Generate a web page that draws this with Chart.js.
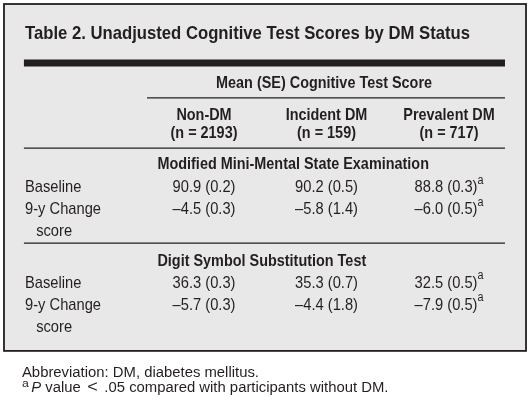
<!DOCTYPE html>
<html><head><meta charset="utf-8">
<script src="https://cdn.jsdelivr.net/npm/chart.js@4.4.1/dist/chart.umd.min.js"></script>
<style>html,body{margin:0;padding:0;background:#fff;}#wrap{width:530px;height:404px;}</style>
</head><body><div id="wrap"><canvas id="c" width="530" height="404"></canvas></div>
<script>
// ---------------- data ----------------
const tableTitle = 'Table 2. Unadjusted Cognitive Test Scores by DM Status';
const spanHeader = 'Mean (SE) Cognitive Test Score';
const groups = ['Non-DM', 'Incident DM', 'Prevalent DM'];
const groupN = [2193, 159, 717];
const tests = ['Modified Mini-Mental State Examination', 'Digit Symbol Substitution Test'];
const measureLabels = [['Baseline'], ['9-y Change', 'score']];
const mmseBaselineMean = [90.9, 90.2, 88.8];
const mmseBaselineSE   = [0.2, 0.5, 0.3];
const mmseChangeMean   = [-4.5, -5.8, -6.0];
const mmseChangeSE     = [0.3, 1.4, 0.5];
const dsstBaselineMean = [36.3, 35.3, 32.5];
const dsstBaselineSE   = [0.3, 0.7, 0.5];
const dsstChangeMean   = [-5.7, -4.4, -7.9];
const dsstChangeSE     = [0.3, 1.8, 0.5];
const pBelow05VsNonDM  = [false, false, true];
const footAbbrev = 'Abbreviation: DM, diabetes mellitus.';
const footNoteP = 'P';
const footNoteParts = [' value', '<', '.05 compared with participants without DM.'];

// ---------------- layout (scale units) ----------------
const X_MIN = -0.6653, X_MAX = 3.6612, Y_MAX = 404 / 22;
const COL_X = [1, 2, 3];
const LABEL_X = -0.461, INDENT_X = -0.37, SECTION_X = 0.62, SPAN_X = 1.98;
const RULE_X = [-0.47, 3.457], SPAN_RULE_X0 = 0.535;
const BOX = { x0: -0.6327, x1: 3.6286, y0: 0.182, y1: 15.95 };
const Y = { title: 1.77, thick: 2.86, span: 4.02, spanRule: 4.45, grp: 5.45, n: 6.27, hdrRule: 6.73,
            sections: [7.68, 12.09], rowStart: [8.73, 13.09], secRule: 11.05, foot1: 17.14, foot2: 17.84 };
const INK = '#231f20';

function hasFont(f) {
  const c = document.createElement('canvas').getContext('2d');
  c.font = '40px monospace'; const a = c.measureText('Baseline Wmi 123').width;
  c.font = `40px "${f}", monospace`; return c.measureText('Baseline Wmi 123').width !== a;
}
const NARROW = hasFont('Liberation Sans Narrow') ? '"Liberation Sans Narrow", "Liberation Sans", Arial, sans-serif' : '"Liberation Sans", Arial, sans-serif';
const WIDE = '"Liberation Sans", Arial, sans-serif';
const STYLES = {
  title:   { w: 'bold', s: 19, fam: NARROW, ref: [tableTitle, 445] },
  bold:    { w: 'bold', s: 17, fam: NARROW, ref: [spanHeader, 216] },
  body:    { w: '', s: 17, fam: NARROW, ref: ['9-y Change', 76] },
  sup:     { w: '', s: 12.5, fam: NARROW, scaleOf: 'body', dy: -8.5 },
  foot:    { w: '', s: 14, fam: WIDE, ref: [footAbbrev, 237] },
  footItal:{ w: 'italic', s: 14, fam: WIDE, scaleOf: 'foot' },
  footLt:  { w: '', s: 17, fam: WIDE, scaleOf: 'foot', dy: -0.5 },
  footSup: { w: '', s: 11.5, fam: WIDE, scaleOf: 'foot', dy: -5 }
};
const fontOf = st => `${st.w ? st.w + ' ' : ''}${st.s}px ${st.fam}`;
function scaleOf(ctx, name) {
  const st = STYLES[name];
  if (st.sx) return st.sx;
  if (st.scaleOf) { st.sx = scaleOf(ctx, st.scaleOf); return st.sx; }
  ctx.save(); ctx.font = fontOf(st); const m = ctx.measureText(st.ref[0]).width; ctx.restore();
  st.sx = st.ref[1] / m; return st.sx;
}

const fmt = v => (v < 0 ? '\u2013' : '') + Math.abs(v).toFixed(1);
const cell = (m, se, sig) => {
  const segs = [{ t: `${fmt(m)} (${se.toFixed(1)})`, st: 'body' }];
  if (sig) segs.push({ t: 'a', st: 'sup' });
  return segs;
};

// ---------------- datasets ----------------
const datasets = [];
const rule = (x0, x1, y, w) => datasets.push({ type: 'line', data: [{ x: x0, y }, { x: x1, y }],
  borderColor: INK, borderWidth: w, pointRadius: 0, borderCapStyle: 'butt', fill: false, showLine: true });
const text = (pts, texts, align) => datasets.push({ type: 'scatter', data: pts, texts, align, pointRadius: 0, showLine: false });

rule(RULE_X[0], RULE_X[1], Y.thick, 7);
rule(SPAN_RULE_X0, RULE_X[1], Y.spanRule, 1.3);
rule(RULE_X[0], RULE_X[1], Y.hdrRule, 1.3);
rule(RULE_X[0], RULE_X[1], Y.secRule, 1.3);

text([{ x: LABEL_X, y: Y.title }], [[{ t: tableTitle, st: 'title' }]], 'left');
text([{ x: SPAN_X, y: Y.span }], [[{ t: spanHeader, st: 'bold' }]], 'center');
text(COL_X.map(x => ({ x, y: Y.grp })), groups.map(g => [{ t: g, st: 'bold' }]), 'center');
text(COL_X.map(x => ({ x, y: Y.n })), groupN.map(n => [{ t: `(n = ${n})`, st: 'bold' }]), 'center');

const testRows = [
  [[mmseBaselineMean, mmseBaselineSE], [mmseChangeMean, mmseChangeSE]],
  [[dsstBaselineMean, dsstBaselineSE], [dsstChangeMean, dsstChangeSE]]
];
tests.forEach((name, s) => {
  text([{ x: SECTION_X, y: Y.sections[s] }], [[{ t: name, st: 'bold' }]], 'left');
  testRows[s].forEach(([means, ses], r) => {
    const y0 = Y.rowStart[s] + r;
    measureLabels[r].forEach((lab, k) => {
      text([{ x: k === 0 ? LABEL_X : INDENT_X, y: y0 + k }], [[{ t: lab, st: 'body' }]], 'left');
    });
    text(COL_X.map(x => ({ x, y: y0 })), means.map((m, i) => cell(m, ses[i], pBelow05VsNonDM[i])), 'center');
  });
});
text([{ x: LABEL_X - 0.025, y: Y.foot1 }], [[{ t: footAbbrev, st: 'foot' }]], 'left');
text([{ x: LABEL_X - 0.025, y: Y.foot2 }], [[
  { t: 'a', st: 'footSup' }, { t: footNoteP, st: 'footItal', gap: 2.5 },
  { t: footNoteParts[0], st: 'foot' }, { t: footNoteParts[1], st: 'footLt', gap: 6.5 },
  { t: footNoteParts[2], st: 'foot', gap: 6.5 }]], 'left');

// ---------------- drawing plugin ----------------
function drawRich(ctx, segs, x, y, align) {
  const widths = segs.map(sg => { const st = STYLES[sg.st]; ctx.font = fontOf(st); return ctx.measureText(sg.t).width * scaleOf(ctx, sg.st) + (sg.gap || 0); });
  const total = widths.reduce((a, b) => a + b, 0);
  let cx = align === 'center' ? x - total / 2 : align === 'right' ? x - total : x;
  segs.forEach((sg, i) => {
    const st = STYLES[sg.st];
    cx += sg.gap || 0;
    ctx.save();
    ctx.font = fontOf(st); ctx.fillStyle = INK; ctx.textAlign = 'left'; ctx.textBaseline = 'alphabetic';
    ctx.translate(cx, y + (st.dy || 0)); ctx.scale(scaleOf(ctx, sg.st), 1);
    ctx.fillText(sg.t, 0, 0);
    ctx.restore();
    cx += widths[i] - (sg.gap || 0);
  });
}
const tablePlugin = {
  id: 'tableText',
  beforeDatasetsDraw(chart) {
    const { ctx, scales: { x, y } } = chart;
    ctx.save();
    ctx.fillStyle = '#fff'; ctx.fillRect(0, 0, chart.width, chart.height);
    const x0 = x.getPixelForValue(BOX.x0), x1 = x.getPixelForValue(BOX.x1);
    const y0 = y.getPixelForValue(BOX.y0), y1 = y.getPixelForValue(BOX.y1);
    ctx.fillStyle = '#e8e8e9'; ctx.fillRect(x0, y0, x1 - x0, y1 - y0);
    ctx.lineWidth = 1.8; ctx.strokeStyle = INK; ctx.strokeRect(x0, y0, x1 - x0, y1 - y0);
    ctx.restore();
  },
  afterDatasetsDraw(chart) {
    const ctx = chart.ctx;
    chart.data.datasets.forEach((ds, i) => {
      if (!ds.texts) return;
      chart.getDatasetMeta(i).data.forEach((el, j) => drawRich(ctx, ds.texts[j], el.x, el.y, ds.align));
    });
  }
};

new Chart(document.getElementById('c').getContext('2d'), {
  type: 'scatter',
  data: { datasets },
  options: {
    responsive: false, animation: false, devicePixelRatio: 1, events: [],
    layout: { padding: 0 },
    plugins: { legend: { display: false }, tooltip: { enabled: false }, title: { display: false } },
    scales: {
      x: { type: 'linear', display: false, min: X_MIN, max: X_MAX },
      y: { type: 'linear', display: false, reverse: true, min: 0, max: Y_MAX }
    }
  },
  plugins: [tablePlugin]
});
</script>
</body></html>
